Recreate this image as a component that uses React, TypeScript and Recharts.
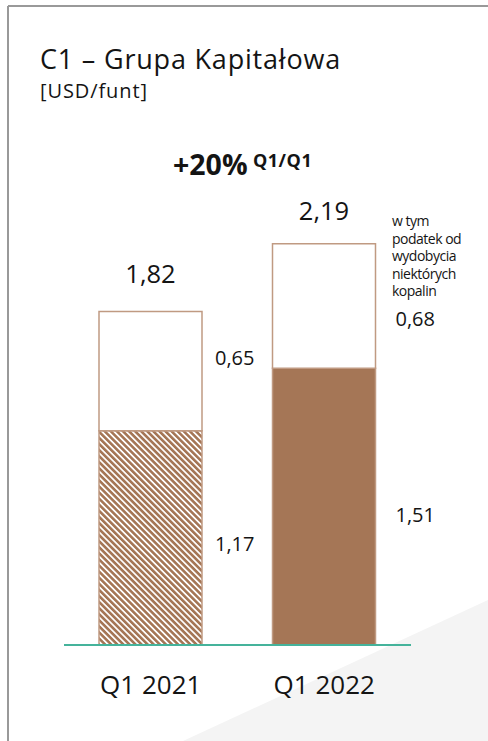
import { BarChart, Bar, XAxis, YAxis, Cell, LabelList } from 'recharts'

const quarters = ['Q1 2021', 'Q1 2022']
const baseCost = [1.17, 1.51]
const miningTax = [0.65, 0.68]
const totals = [1.82, 2.19]
const noteLines = ['w tym', 'podatek od', 'wydobycia', 'niektórych', 'kopalin']

const BROWN = '#a57656'
const OUTLINE = '#c09a82'
const TEAL = '#45b39b'
const TEXT = '#141414'
const FONT = '"Open Sans", "Noto Sans", sans-serif'

// label nudges (px), per bar
const sideDx = [13, 20]
const baseDy = [120, 154]
const taxDy = [53, 82]
const totalDy = [-29, -24]

const fmt = (v: number) => v.toFixed(2).replace('.', ',')

const data = quarters.map((q, i) => ({
  name: q,
  base: baseCost[i],
  tax: miningTax[i],
  total: totals[i],
}))

const sideLabel = (dyArr: number[]) => (props: any) => {
  const { x, y, width, index, value } = props
  return (
    <text
      x={x + width + sideDx[index]}
      y={y + dyArr[index]}
      fill={TEXT}
      fontSize={20}
      fontFamily={FONT}
    >
      {fmt(Number(value))}
    </text>
  )
}

const totalLabel = (props: any) => {
  const { x, y, width, index } = props
  return (
    <text
      x={x + width / 2}
      y={y + totalDy[index]}
      fill={TEXT}
      fontSize={25.5}
      fontFamily={FONT}
      textAnchor="middle"
    >
      {fmt(totals[index])}
    </text>
  )
}

const QuarterTick = (props: any) => {
  const { x, y, payload } = props
  return (
    <text x={x} y={y + 47} fill={TEXT} fontSize={26} fontFamily={FONT} textAnchor="middle">
      {payload.value}
    </text>
  )
}

export default function App() {
  return (
    <div
      style={{
        position: 'absolute',
        left: 0,
        top: 0,
        width: 488,
        height: 741,
        background: '#fff',
        overflow: 'hidden',
        fontFamily: FONT,
        color: TEXT,
      }}
    >
      <svg width={488} height={741} style={{ position: 'absolute', left: 0, top: 0 }}>
        <polygon points="488,600 183,741 488,741" fill="#f4f4f4" />
        <line x1={8} y1={6} x2={488} y2={6} stroke="#999" strokeWidth={2} />
        <line x1={8} y1={6} x2={8} y2={741} stroke="#999" strokeWidth={2} />
      </svg>

      <div
        style={{
          position: 'absolute',
          left: 40,
          top: 43,
          fontSize: 27,
          letterSpacing: 0.8,
          lineHeight: '32px',
          whiteSpace: 'nowrap',
        }}
      >
        C1 – Grupa Kapitałowa
      </div>
      <div
        style={{
          position: 'absolute',
          left: 40,
          top: 79,
          fontSize: 20,
          letterSpacing: 0.9,
          lineHeight: '24px',
          whiteSpace: 'nowrap',
        }}
      >
        [USD/funt]
      </div>

      <div style={{ position: 'absolute', left: 0, top: 0 }}>
        <BarChart
          width={488}
          height={741}
          data={data}
          margin={{ top: 187, right: 77, bottom: 66, left: 64 }}
          barSize={103}
        >
          <defs>
            <pattern
              id="hatch"
              patternUnits="userSpaceOnUse"
              width={4.3}
              height={4.3}
              patternTransform="rotate(-45)"
            >
              <rect x={0} y={0} width={4.3} height={4.3} fill="#fff" />
              <rect x={0} y={0} width={2.6} height={4.3} fill={BROWN} />
            </pattern>
          </defs>
          <XAxis
            dataKey="name"
            height={30}
            axisLine={{ stroke: TEAL, strokeWidth: 2 }}
            tickLine={false}
            tickSize={0}
            tick={<QuarterTick />}
            interval={0}
          />
          <YAxis hide domain={[0, 2.5]} />
          <Bar dataKey="base" stackId="c1" stroke={OUTLINE} strokeWidth={1.5} isAnimationActive={false}>
            <Cell fill="url(#hatch)" />
            <Cell fill={BROWN} />
            <LabelList dataKey="base" content={sideLabel(baseDy)} />
          </Bar>
          <Bar dataKey="tax" stackId="c1" fill="#fff" stroke={OUTLINE} strokeWidth={1.5} isAnimationActive={false}>
            <LabelList dataKey="tax" content={sideLabel(taxDy)} />
            <LabelList dataKey="total" content={totalLabel} />
          </Bar>
        </BarChart>
      </div>

      <svg width={488} height={741} style={{ position: 'absolute', left: 0, top: 0, pointerEvents: 'none' }}>
        <text x={173} y={175} fontSize={28.5} fontWeight={700} fill={TEXT} fontFamily={FONT}>
          +20%
        </text>
        <text x={253} y={167} fontSize={18} fontWeight={700} letterSpacing={0.5} fill={TEXT} fontFamily={FONT}>
          Q1/Q1
        </text>
        {noteLines.map((line, i) => (
          <text
            key={line}
            x={392}
            y={226 + i * 17.5}
            fontSize={14}
            letterSpacing={-0.5}
            fill={TEXT}
            fontFamily={FONT}
          >
            {line}
          </text>
        ))}
      </svg>
    </div>
  )
}
